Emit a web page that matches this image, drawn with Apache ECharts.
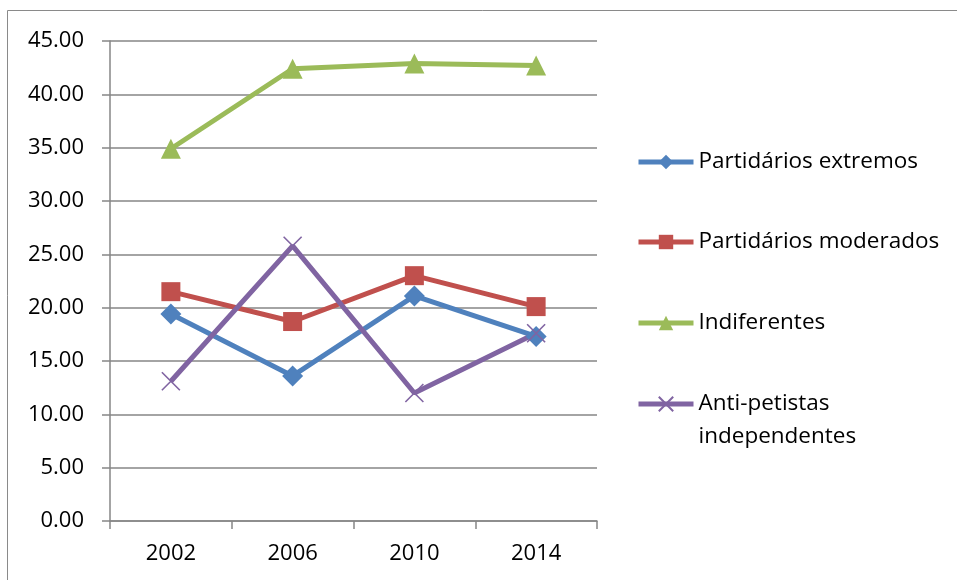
<!DOCTYPE html>
<html>
<head>
<meta charset="utf-8">
<script src="https://cdn.jsdelivr.net/npm/echarts@6/dist/echarts.min.js"></script>
<style>
  html, body { margin: 0; padding: 0; background: #fff; }
  #main { width: 957px; height: 580px; }
</style>
</head>
<body>
<div id="main"></div>
<script type="text/javascript">
var anos = ['2002', '2006', '2010', '2014'];
var nomes = ['Partidários extremos', 'Partidários moderados', 'Indiferentes', 'Anti-petistas independentes'];
var extremos = [19.4, 13.6, 21.1, 17.3];
var moderados = [21.5, 18.7, 23.0, 20.1];
var indiferentes = [34.9, 42.4, 42.9, 42.7];
var antipetistas = [13.1, 25.8, 12.0, 17.6];

var cores = ['#4F81BD', '#C0504D', '#9BBB59', '#8064A2'];
var simbolos = ['diamond', 'rect', 'triangle', 'path://M0,0L10,10M10,0L0,10'];
var tamanhos = [21, 19, 20, 18];
var valores = [extremos, moderados, indiferentes, antipetistas];
var fonte = 'Open Sans';

// top of each legend box
var legTop = [149, 229, 310, 354.5];

var series = [];
for (var i = 0; i < nomes.length; i++) {
    series.push({
        name: nomes[i],
        type: 'line',
        data: valores[i],
        symbol: simbolos[i],
        symbolSize: tamanhos[i],
        lineStyle: { width: 5, color: cores[i] },
        itemStyle: i == 3
            ? { color: 'transparent', borderColor: cores[i], borderWidth: 1.6 }
            : { color: cores[i], borderWidth: 0 },
        emphasis: { disabled: true }
    });
}

var legends = [];
for (var i = 0; i < nomes.length; i++) {
    var txt = { fontFamily: fonte, fontSize: 22.5, color: '#000', lineHeight: 26 };
    if (i == 3) {
        txt.lineHeight = 33;
    }
    legends.push({
        data: [nomes[i]],
        orient: 'vertical',
        left: 636,
        top: legTop[i],
        padding: 0,
        itemWidth: 55,
        itemHeight: 18,
        selectedMode: false,
        lineStyle: { width: 5 },
        formatter: function (n) {
            // blank first line keeps the icon on "Anti-petistas"
            return n == 'Anti-petistas independentes' ? '\nAnti-petistas\nindependentes' : n;
        },
        textStyle: txt
    });
}

var myChart = echarts.init(document.getElementById('main'));
myChart.setOption({
    animation: false,
    backgroundColor: '#fff',
    graphic: [{
        type: 'rect',
        shape: { x: 7.5, y: 10.5, width: 1200, height: 1000 },
        style: { fill: 'none', stroke: '#8a8a8a', lineWidth: 1 },
        silent: true
    }],
    legend: legends,
    grid: { left: 110, right: 360, top: 41, bottom: 59 },
    xAxis: {
        type: 'category',
        data: anos,
        axisLine: { lineStyle: { color: '#868686', width: 1.5 } },
        axisTick: { show: true, length: 8, lineStyle: { color: '#868686', width: 1.5 } },
        axisLabel: { fontFamily: fonte, fontSize: 22, color: '#000', margin: 22 }
    },
    yAxis: {
        type: 'value',
        min: 0,
        max: 45,
        interval: 5,
        axisLine: { show: true, lineStyle: { color: '#868686', width: 1.5 } },
        axisTick: { show: true, length: 8, lineStyle: { color: '#868686', width: 1.5 } },
        splitLine: { lineStyle: { color: '#868686', width: 1.5 } },
        axisLabel: {
            fontFamily: fonte, fontSize: 22, color: '#000', margin: 26,
            formatter: function (v) { return v.toFixed(2); }
        }
    },
    series: series
});
</script>
</body>
</html>
